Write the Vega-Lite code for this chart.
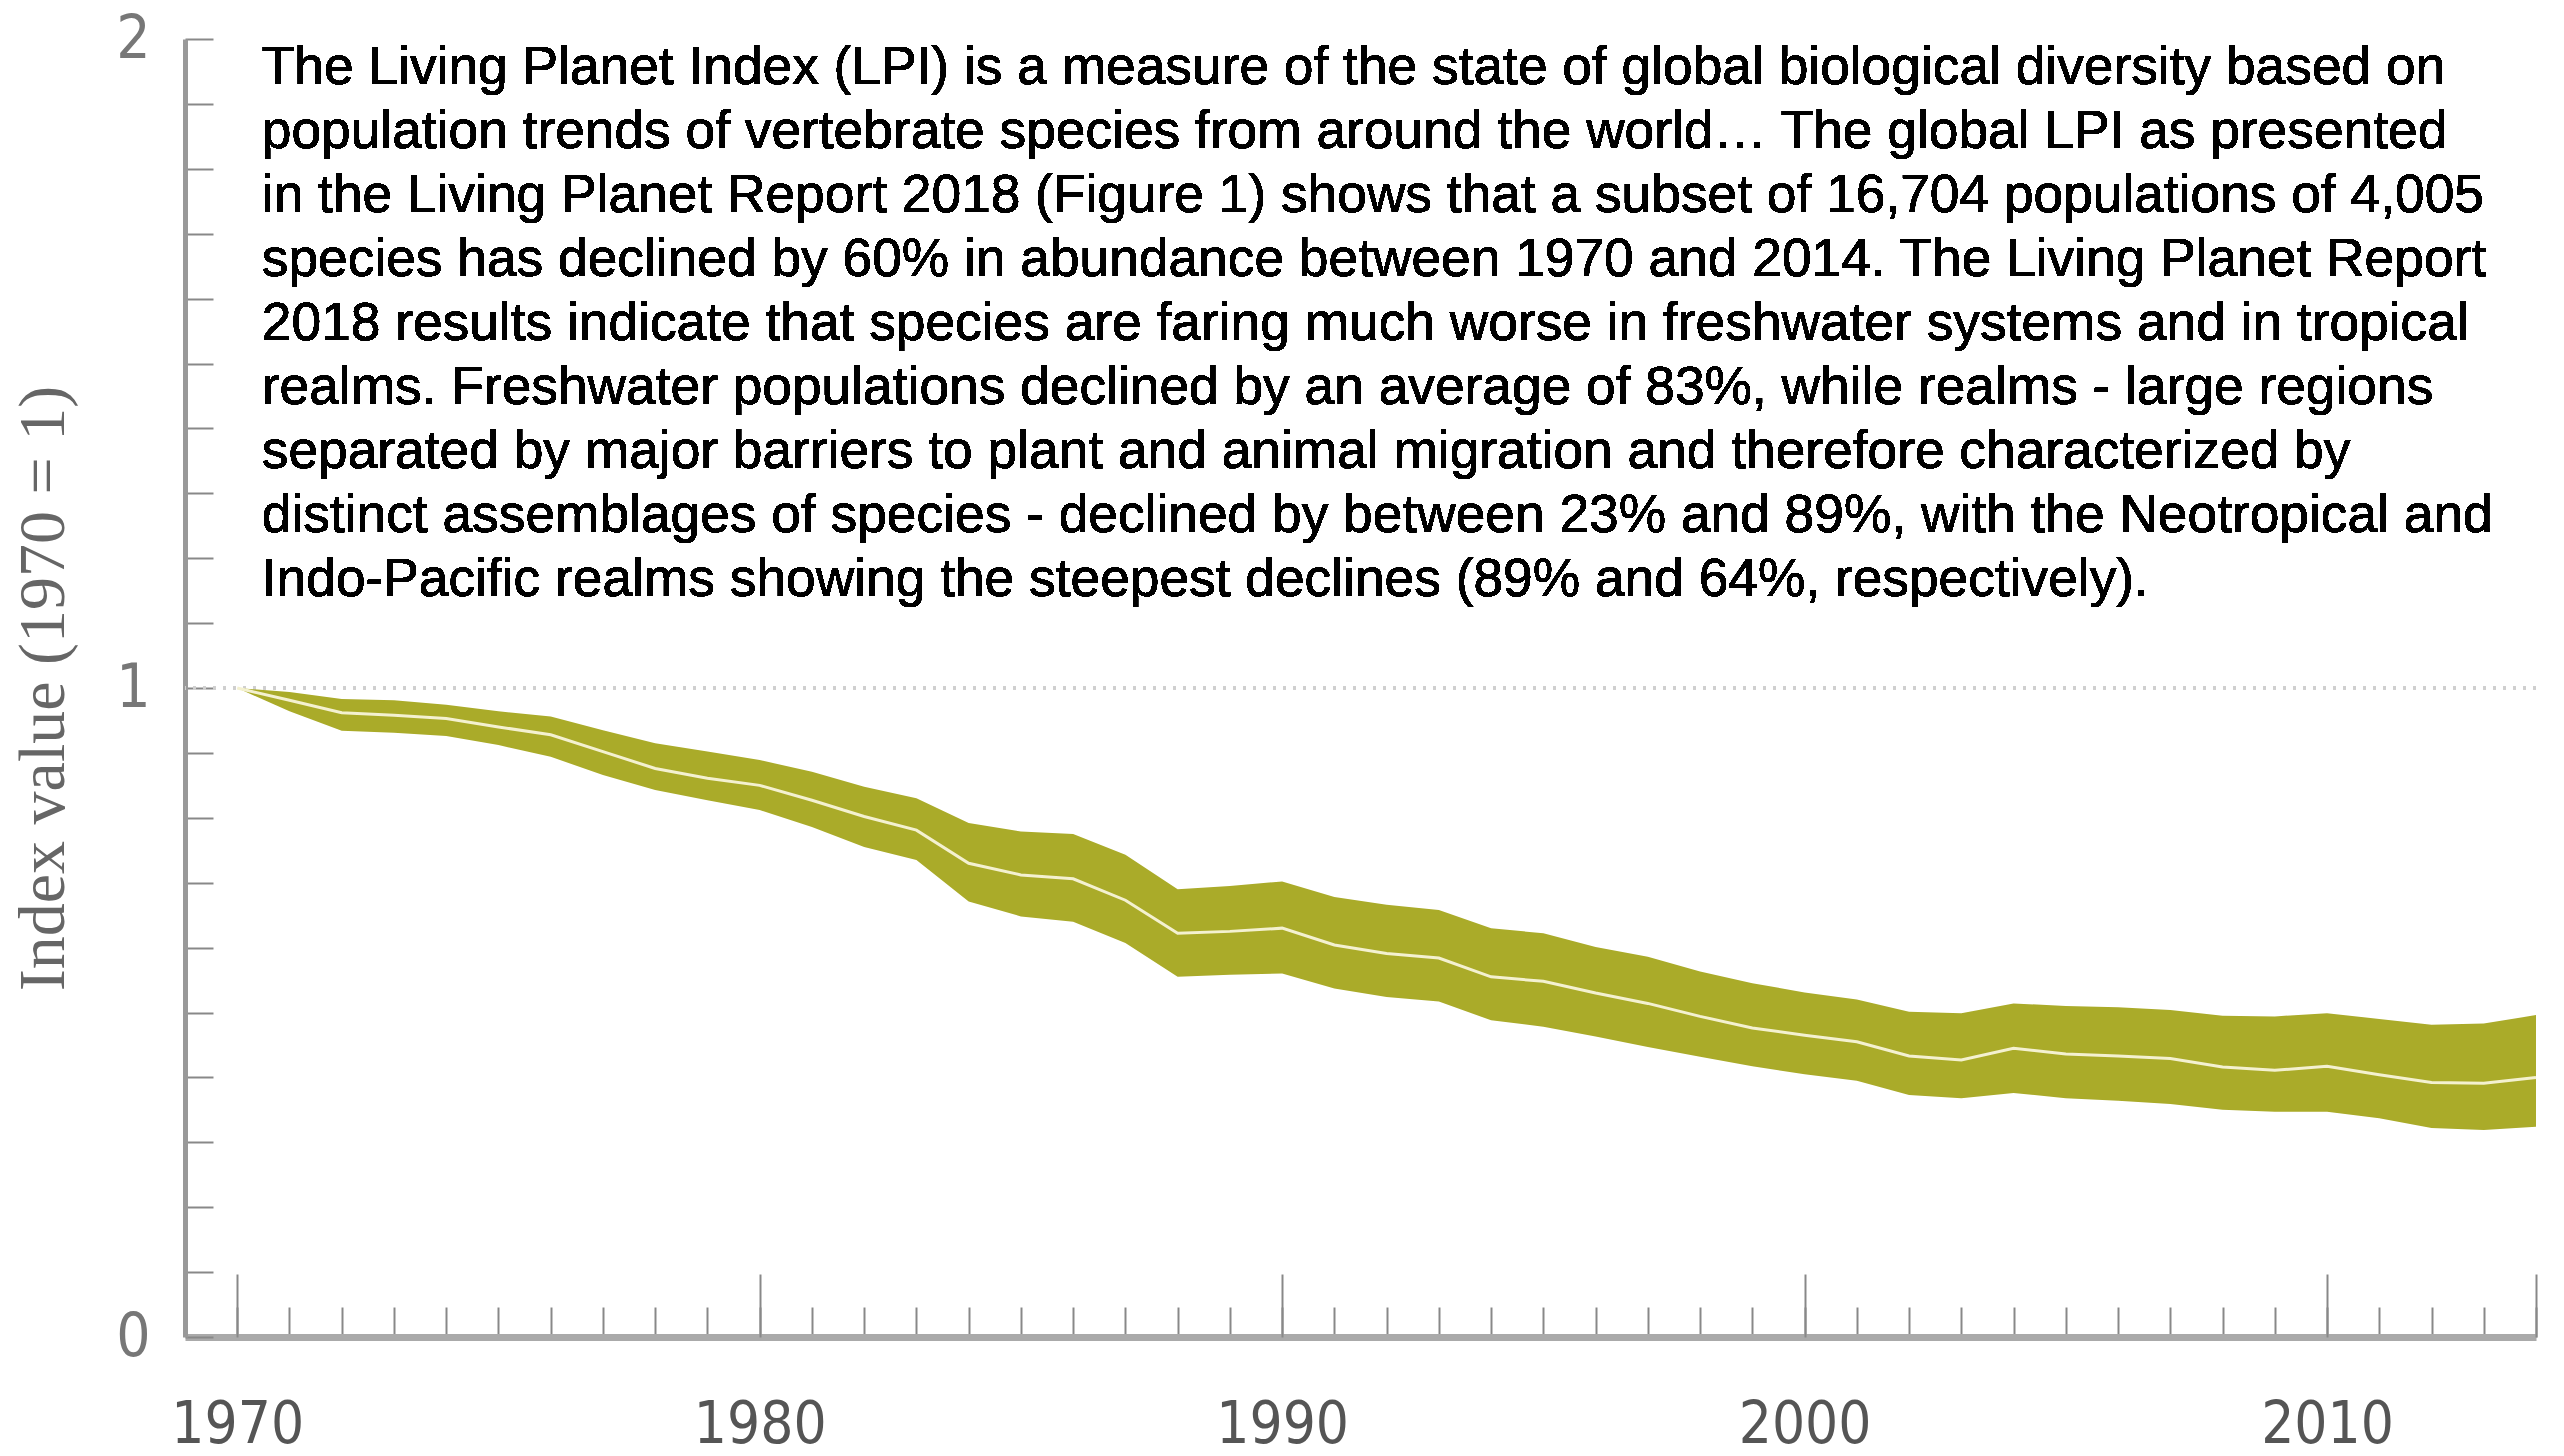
{
  "$schema": "https://vega.github.io/schema/vega-lite/v6.json",
  "width": 2351,
  "height": 1298,
  "autosize": {"type": "none"},
  "padding": {"left": 185, "top": 39, "right": 28, "bottom": 119},
  "background": "white",
  "config": {"view": {"stroke": null}},
  "data": {"values": [
    {"year": 1970, "lo": 1.000, "mid": 1.000, "hi": 1.000},
    {"year": 1971, "lo": 0.964, "mid": 0.981, "hi": 0.994},
    {"year": 1972, "lo": 0.934, "mid": 0.962, "hi": 0.983},
    {"year": 1973, "lo": 0.931, "mid": 0.958, "hi": 0.981},
    {"year": 1974, "lo": 0.926, "mid": 0.953, "hi": 0.974},
    {"year": 1975, "lo": 0.912, "mid": 0.940, "hi": 0.964},
    {"year": 1976, "lo": 0.894, "mid": 0.928, "hi": 0.956},
    {"year": 1977, "lo": 0.866, "mid": 0.902, "hi": 0.935},
    {"year": 1978, "lo": 0.843, "mid": 0.876, "hi": 0.915},
    {"year": 1979, "lo": 0.827, "mid": 0.861, "hi": 0.902},
    {"year": 1980, "lo": 0.812, "mid": 0.850, "hi": 0.889},
    {"year": 1981, "lo": 0.786, "mid": 0.827, "hi": 0.871},
    {"year": 1982, "lo": 0.755, "mid": 0.802, "hi": 0.848},
    {"year": 1983, "lo": 0.735, "mid": 0.781, "hi": 0.830},
    {"year": 1984, "lo": 0.671, "mid": 0.730, "hi": 0.792},
    {"year": 1985, "lo": 0.648, "mid": 0.712, "hi": 0.779},
    {"year": 1986, "lo": 0.640, "mid": 0.706, "hi": 0.775},
    {"year": 1987, "lo": 0.607, "mid": 0.673, "hi": 0.743},
    {"year": 1988, "lo": 0.555, "mid": 0.622, "hi": 0.690},
    {"year": 1989, "lo": 0.558, "mid": 0.625, "hi": 0.695},
    {"year": 1990, "lo": 0.560, "mid": 0.630, "hi": 0.702},
    {"year": 1991, "lo": 0.537, "mid": 0.604, "hi": 0.678},
    {"year": 1992, "lo": 0.524, "mid": 0.591, "hi": 0.666},
    {"year": 1993, "lo": 0.517, "mid": 0.584, "hi": 0.658},
    {"year": 1994, "lo": 0.488, "mid": 0.555, "hi": 0.630},
    {"year": 1995, "lo": 0.478, "mid": 0.548, "hi": 0.622},
    {"year": 1996, "lo": 0.463, "mid": 0.530, "hi": 0.601},
    {"year": 1997, "lo": 0.447, "mid": 0.514, "hi": 0.586},
    {"year": 1998, "lo": 0.432, "mid": 0.494, "hi": 0.563},
    {"year": 1999, "lo": 0.417, "mid": 0.476, "hi": 0.545},
    {"year": 2000, "lo": 0.405, "mid": 0.465, "hi": 0.531},
    {"year": 2001, "lo": 0.395, "mid": 0.455, "hi": 0.520},
    {"year": 2002, "lo": 0.373, "mid": 0.433, "hi": 0.501},
    {"year": 2003, "lo": 0.368, "mid": 0.427, "hi": 0.499},
    {"year": 2004, "lo": 0.376, "mid": 0.445, "hi": 0.514},
    {"year": 2005, "lo": 0.368, "mid": 0.436, "hi": 0.510},
    {"year": 2006, "lo": 0.364, "mid": 0.433, "hi": 0.508},
    {"year": 2007, "lo": 0.359, "mid": 0.429, "hi": 0.504},
    {"year": 2008, "lo": 0.350, "mid": 0.416, "hi": 0.495},
    {"year": 2009, "lo": 0.347, "mid": 0.411, "hi": 0.494},
    {"year": 2010, "lo": 0.347, "mid": 0.417, "hi": 0.499},
    {"year": 2011, "lo": 0.337, "mid": 0.404, "hi": 0.490},
    {"year": 2012, "lo": 0.322, "mid": 0.392, "hi": 0.481},
    {"year": 2013, "lo": 0.319, "mid": 0.391, "hi": 0.483},
    {"year": 2014, "lo": 0.324, "mid": 0.400, "hi": 0.496}
  ]},
  "layer": [
    {
      "mark": {"type": "rule", "stroke": "#cfcfcf", "strokeWidth": 3, "strokeDash": [3, 7]},
      "encoding": {"y": {"datum": 1, "type": "quantitative"}}
    },
    {
      "mark": {"type": "area", "color": "#aaab29", "opacity": 1},
      "encoding": {
        "x": {
          "field": "year", "type": "quantitative",
          "scale": {"domain": [1969, 2014], "nice": false, "zero": false},
          "axis": {
            "orient": "bottom",
            "values": [1970,1971,1972,1973,1974,1975,1976,1977,1978,1979,1980,1981,1982,1983,1984,1985,1986,1987,1988,1989,1990,1991,1992,1993,1994,1995,1996,1997,1998,1999,2000,2001,2002,2003,2004,2005,2006,2007,2008,2009,2010,2011,2012,2013,2014],
            "tickSize": -30, "tickWidth": 2, "tickColor": "#888888",
            "labels": false, "grid": false,
            "domainColor": "#aaaaaa", "domainWidth": 7,
            "title": null
          }
        },
        "y": {
          "field": "lo", "type": "quantitative",
          "scale": {"domain": [0, 2], "nice": false},
          "axis": {
            "values": [0,0.1,0.2,0.3,0.4,0.5,0.6,0.7,0.8,0.9,1,1.1,1.2,1.3,1.4,1.5,1.6,1.7,1.8,1.9,2],
            "tickSize": -28, "tickWidth": 2, "tickColor": "#888888",
            "grid": false,
            "domainColor": "#999999", "domainWidth": 5,
            "labelExpr": "datum.value == 0 ? '0' : datum.value == 1 ? '1' : datum.value == 2 ? '2' : ''",
            "labelFont": "'DejaVu Sans Condensed', 'Liberation Sans', sans-serif", "labelFontSize": 60, "labelColor": "#777777",
            "labelPadding": 63, "labelOverlap": false, "labelFlush": false,
            "title": "Index value (1970 = 1)",
            "titleFont": "Liberation Serif", "titleFontSize": 66, "titleFontWeight": "normal",
            "titleColor": "#666666", "titlePadding": 38
          }
        },
        "y2": {"field": "hi"}
      }
    },
    {
      "mark": {"type": "line", "color": "#f4f1d0", "strokeWidth": 3},
      "encoding": {
        "x": {
          "field": "year", "type": "quantitative",
          "axis": {
            "orient": "bottom",
            "values": [1970, 1980, 1990, 2000, 2010, 2014],
            "tickSize": -63, "tickWidth": 2, "tickColor": "#888888",
            "domain": false, "grid": false,
            "labelExpr": "datum.value == 2014 ? '' : '' + datum.value",
            "labelFont": "'DejaVu Sans Condensed', 'Liberation Sans', sans-serif", "labelFontSize": 58, "labelColor": "#555555",
            "labelPadding": 122, "labelOverlap": false, "labelFlush": false,
            "title": null
          }
        },
        "y": {"field": "mid", "type": "quantitative"}
      }
    },
    {
      "mark": {"type": "text", "align": "left", "baseline": "alphabetic", "font": "Liberation Sans", "fontSize": 53.3, "lineHeight": 64, "color": "#000000"},
      "encoding": {
        "x": {"datum": 1970.47, "type": "quantitative", "axis": null},
        "y": {"datum": 1.9307, "type": "quantitative"},
        "text": {"value": [
          "The Living Planet Index (LPI) is a measure of the state of global biological diversity based on",
          "population trends of vertebrate species from around the world…  The global LPI as presented",
          "in the Living Planet Report 2018 (Figure 1) shows that a subset of 16,704 populations of 4,005",
          "species has declined by 60% in abundance between 1970 and 2014. The Living Planet Report",
          "2018 results indicate that species are faring much worse in freshwater systems and in tropical",
          "realms. Freshwater populations declined by an average of 83%, while realms - large regions",
          "separated by major barriers to plant and animal migration and therefore characterized by",
          "distinct assemblages of species - declined by between 23% and 89%, with the Neotropical and",
          "Indo-Pacific realms showing the steepest declines (89% and 64%, respectively)."
        ]}
      }
    }
  ],
  "resolve": {"axis": {"x": "independent"}}
}
